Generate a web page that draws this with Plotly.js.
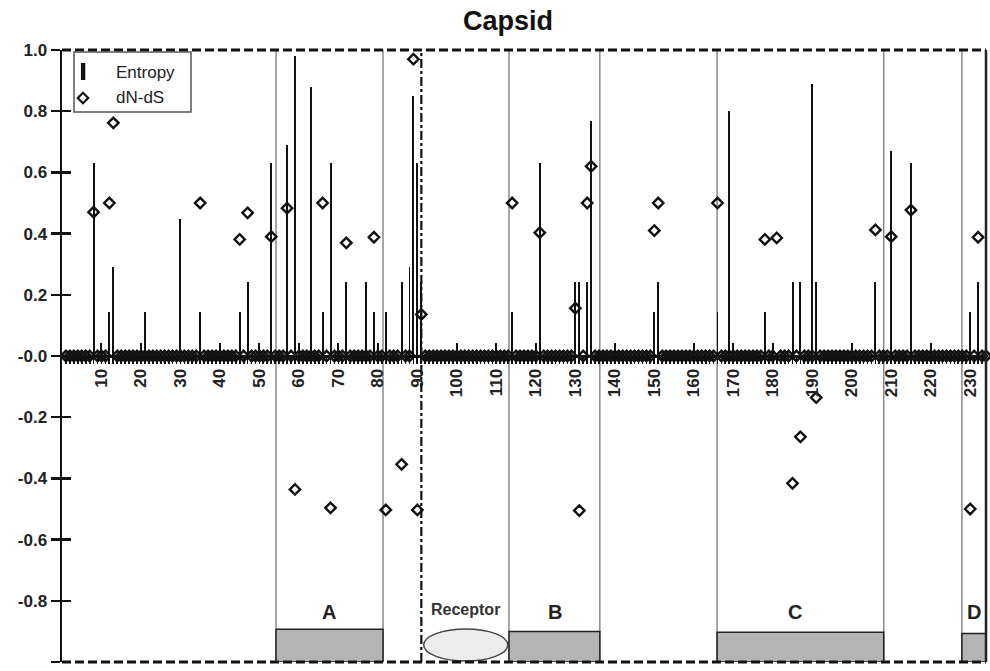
<!DOCTYPE html>
<html>
<head>
<meta charset="utf-8">
<script src="https://cdn.plot.ly/plotly-3.0.1.min.js"></script>
<style>html,body{margin:0;padding:0;background:#fff;}#chart{width:990px;height:671px;}</style>
</head>
<body>
<div id="chart"></div>
<script>
// ---- data ----
const nSites = 234;
const entropySites  = [8, 12, 13, 21, 30, 35, 45, 47, 53, 57, 59, 63, 66, 68, 72, 77, 79, 82, 86, 88, 89, 90, 91, 114, 121, 130, 131, 133, 134, 150, 151, 166, 169, 178, 185, 187, 190, 191, 206, 210, 215, 230, 232];
const entropyValues = [0.63, 0.145, 0.29, 0.145, 0.448, 0.145, 0.145, 0.243, 0.632, 0.69, 0.98, 0.88, 0.145, 0.632, 0.243, 0.243, 0.145, 0.145, 0.243, 0.29, 0.85, 0.632, 0.243, 0.145, 0.632, 0.243, 0.243, 0.243, 0.768, 0.145, 0.243, 0.145, 0.80, 0.145, 0.243, 0.243, 0.888, 0.243, 0.243, 0.67, 0.632, 0.145, 0.243];

const dndsSites  = [8, 12, 13, 35, 45, 47, 53, 57, 59, 66, 68, 72, 79, 82, 86, 89, 90, 91, 114, 121, 130, 131, 133, 134, 150, 151, 166, 178, 181, 185, 187, 191, 206, 210, 215, 230, 232];
const dndsValues = [0.47, 0.50, 0.762, 0.50, 0.381, 0.468, 0.39, 0.483, -0.436, 0.50, -0.496, 0.37, 0.388, -0.503, -0.354, 0.97, -0.503, 0.136, 0.50, 0.403, 0.156, -0.505, 0.50, 0.62, 0.41, 0.50, 0.50, 0.381, 0.386, -0.416, -0.264, -0.136, 0.412, 0.39, 0.477, -0.50, 0.388];

const xTickVals   = [10, 20, 30, 40, 50, 60, 70, 80, 90, 100, 110, 120, 130, 140, 150, 160, 170, 180, 190, 200, 210, 220, 230];
const xTickLabels = ['10','20','30','40','50','60','70','80','90','100','110','120','130','140','150','160','170','180','190','200','210','220','230'];
const yTickVals   = [-1, -0.8, -0.6, -0.4, -0.2, 0, 0.2, 0.4, 0.6, 0.8, 1];
const yTickLabels = ['-1.0','-0.8','-0.6','-0.4','-0.2','-0.0','0.2','0.4','0.6','0.8','1.0'];

// regions: name, start, end (sequence positions)
const regionNames = ['A', 'B', 'C', 'D'];
const regionStart = [54.2, 113.2, 165.9, 227.9];
const regionEnd   = [81.3, 136.2, 208.1, 234];
const receptorStart = 91.6, receptorEnd = 112.9;
const dashDotSite = 91;

// ---- build series ----
const sites = Array.from({length: nSites}, (_, i) => i + 1);
const dndsMap = {};
dndsSites.forEach((s, i) => { dndsMap[s] = dndsValues[i]; });
const dndsAll = sites.map(s => (s in dndsMap) ? dndsMap[s] : 0);

const FONT = 'Arial, "Liberation Sans", sans-serif';

const traces = [
  {
    type: 'bar', name: 'Entropy', x: entropySites, y: entropyValues,
    width: 0.5, marker: {color: '#111', line: {width: 0}},
    showlegend: false, hoverinfo: 'x+y'
  },
  {
    type: 'scatter', mode: 'markers', name: 'dN-dS', x: sites, y: dndsAll,
    yaxis: 'y2',
    marker: {symbol: 'diamond-open', size: 8, color: '#111', line: {width: 2.4, color: '#111'}},
    showlegend: false, cliponaxis: false
  }
];

const shapes = [];
// thin grey region boundaries
regionNames.forEach((n, i) => {
  shapes.push({type: 'line', xref: 'x', yref: 'y', x0: regionStart[i], x1: regionStart[i], y0: -1, y1: 1,
    line: {color: '#8a8a8a', width: 1.5}, layer: 'below'});
  if (regionEnd[i] < 234) {
    shapes.push({type: 'line', xref: 'x', yref: 'y', x0: regionEnd[i], x1: regionEnd[i], y0: -1, y1: 1,
      line: {color: '#8a8a8a', width: 1.5}, layer: 'below'});
  }
});
// grey boxes
const boxTop = [-0.893, -0.9, -0.903, -0.907];
regionNames.forEach((n, i) => {
  shapes.push({type: 'rect', xref: 'x', yref: 'y', x0: regionStart[i], x1: regionEnd[i], y0: -1, y1: boxTop[i],
    fillcolor: '#b4b4b4', line: {color: '#222', width: 1.5}});
});
// receptor ellipse
shapes.push({type: 'circle', xref: 'x', yref: 'y', x0: receptorStart, x1: receptorEnd, y0: -0.997, y1: -0.892,
  fillcolor: '#ececec', line: {color: '#444', width: 1.5}});
// dash-dot separator
shapes.push({type: 'line', xref: 'x', yref: 'y', x0: dashDotSite, x1: dashDotSite, y0: -1, y1: 1,
  line: {color: '#111', width: 2.2, dash: '9px,3px,3px,3px'}});
// borders (paper refs so they are not clipped)
shapes.push({type: 'line', xref: 'paper', yref: 'paper', x0: 0, x1: 1, y0: 1, y1: 1, line: {color: '#111', width: 2.8, dash: '9px,4px'}});
shapes.push({type: 'line', xref: 'paper', yref: 'paper', x0: 0, x1: 1, y0: 0, y1: 0, line: {color: '#111', width: 2.8, dash: '9px,4px'}});
shapes.push({type: 'line', xref: 'paper', yref: 'paper', x0: 1, x1: 1, y0: 0, y1: 1, line: {color: '#222', width: 2.5}});
// manual legend
shapes.push({type: 'rect', xref: 'paper', yref: 'paper', x0: 0.013, x1: 0.1396, y0: 0.8987, y1: 0.9967,
  fillcolor: '#fff', line: {color: '#555', width: 1.5}});
shapes.push({type: 'rect', xref: 'paper', yref: 'paper', x0: 0.0205, x1: 0.0252, y0: 0.951, y1: 0.9788,
  fillcolor: '#111', line: {width: 0}});
const dcx = 0.0227, dcy = 0.9216, dhx = 5.2 / 924, dhy = 5.2 / 612;
shapes.push({type: 'path', xref: 'paper', yref: 'paper',
  path: `M ${dcx - dhx} ${dcy} L ${dcx} ${dcy + dhy} L ${dcx + dhx} ${dcy} L ${dcx} ${dcy - dhy} Z`,
  fillcolor: 'rgba(0,0,0,0)', line: {color: '#111', width: 2.2}});

const annotations = [
  {xref: 'paper', yref: 'paper', x: 0.0563, y: 0.964, text: 'Entropy', showarrow: false, xanchor: 'left', yanchor: 'middle',
    font: {family: FONT, size: 17, color: '#222'}},
  {xref: 'paper', yref: 'paper', x: 0.0563, y: 0.9216, text: 'dN-dS', showarrow: false, xanchor: 'left', yanchor: 'middle',
    font: {family: FONT, size: 17, color: '#222'}},
  {xref: 'x', yref: 'y', x: (receptorStart + receptorEnd) / 2, y: -0.827, text: '<b>Receptor</b>', showarrow: false,
    font: {family: FONT, size: 16, color: '#333'}}
];
const labelX = [67.6, 124.9, 185.7, 231.0];
regionNames.forEach((n, i) => {
  annotations.push({xref: 'x', yref: 'y', x: labelX[i], y: -0.837, text: '<b>' + n + '</b>', showarrow: false,
    font: {family: FONT, size: 20, color: '#222'}});
});

const layout = {
  width: 990, height: 671,
  margin: {l: 62, r: 4, t: 50, b: 9},
  paper_bgcolor: '#fff', plot_bgcolor: '#fff',
  title: {text: '<b>Capsid</b>', font: {family: FONT, size: 27, color: '#111'},
    xref: 'container', yref: 'container', x: 508 / 990, xanchor: 'center', y: 1 - 21 / 671, yanchor: 'middle'},
  showlegend: false,
  bargap: 0,
  xaxis: {
    range: [0, 234], anchor: 'free', position: 0.5,
    showgrid: false, zeroline: false, showline: true, linecolor: '#111', linewidth: 3,
    tickmode: 'array', tickvals: xTickVals, ticktext: xTickLabels, tickangle: -90,
    ticks: 'inside', ticklen: 12, tickwidth: 2, tickcolor: '#111',
    tickfont: {family: FONT, size: 17, color: '#222', weight: 'bold'},
    minor: {dtick: 1, ticks: 'outside', ticklen: 6, tickwidth: 1.8, tickcolor: '#111', showgrid: false},
    ticklabelstandoff: 4, fixedrange: true
  },
  yaxis: {
    range: [-1, 1], showgrid: false, zeroline: false,
    showline: true, linecolor: '#111', linewidth: 2.5,
    tickmode: 'array', tickvals: yTickVals, ticktext: yTickLabels,
    ticks: 'outside', ticklen: 9, tickwidth: 2.5, tickcolor: '#111',
    tickfont: {family: FONT, size: 17, color: '#222', weight: 'bold'},
    fixedrange: true
  },
  yaxis2: {
    range: [-1, 1], overlaying: 'y', side: 'left', showgrid: false, zeroline: false, showline: false,
    tickmode: 'array', tickvals: yTickVals, showticklabels: false,
    ticks: 'inside', ticklen: 9, tickwidth: 2.5, tickcolor: '#111', fixedrange: true
  },
  shapes: shapes,
  annotations: annotations
};

Plotly.newPlot('chart', traces, layout, {displayModeBar: false, staticPlot: true});
</script>
</body>
</html>
